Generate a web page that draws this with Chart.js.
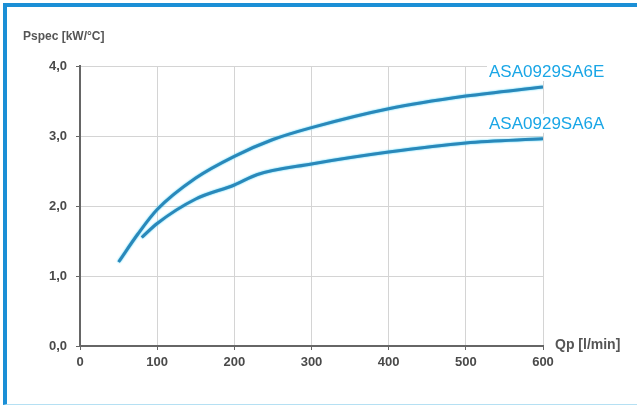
<!DOCTYPE html>
<html>
<head>
<meta charset="utf-8">
<script src="https://cdn.jsdelivr.net/npm/chart.js@4.4.0/dist/chart.umd.min.js"></script>
<style>
  html, body { margin: 0; padding: 0; background: #fff; }
  #frame {
    position: absolute; left: 3px; top: 3px; width: 634px; height: 402px;
    border-left: 4px solid #1b8fd6; border-top: 4px solid #1b8fd6;
    border-bottom: 1px solid #b5e0f3;
    box-sizing: border-box;
  }
  canvas { position: absolute; left: 0; top: 0; }
</style>
</head>
<body>
<div id="frame"></div>
<canvas id="myChart" width="641" height="409"></canvas>
<script>
// Qp [l/min] vs Pspec [kW/°C]
var flowE = [50, 75, 100, 150, 200, 250, 300, 400, 500, 600];
var pspecE = [1.2, 1.6, 1.95, 2.4, 2.71, 2.95, 3.12, 3.39, 3.57, 3.70];
var flowA = [80, 100, 150, 200, 230, 300, 400, 500, 600];
var pspecA = [1.55, 1.75, 2.1, 2.3, 2.45, 2.6, 2.77, 2.9, 2.96];
var seriesNames = ['ASA0929SA6E', 'ASA0929SA6A'];
var xTicks = [0, 100, 200, 300, 400, 500, 600];
var yTicks = [0, 1, 2, 3, 4];

function toPoints(xs, ys) {
    return xs.map(function(x, i) { return {x: x, y: ys[i]}; });
}

var fontFamily = "'Liberation Sans', Arial, sans-serif";

// cyan halo round the dark line
var lineGlow = {
    id: 'lineGlow',
    beforeDatasetDraw: function(chart) {
        var ctx = chart.ctx;
        ctx.save();
        ctx.shadowColor = '#3ccdf5';
        ctx.shadowBlur = 2;
    },
    afterDatasetDraw: function(chart) {
        chart.ctx.restore();
    }
};

// axis captions and series names next to line ends
var captions = {
    id: 'captions',
    afterDraw: function(chart) {
        var ctx = chart.ctx;
        var area = chart.chartArea;
        ctx.save();
        ctx.fillStyle = '#555';
        ctx.font = 'bold 12px ' + fontFamily;
        ctx.textBaseline = 'alphabetic';
        ctx.textAlign = 'left';
        ctx.fillText('Pspec [kW/°C]', 23, 40);
        ctx.font = 'bold 14px ' + fontFamily;
        ctx.textBaseline = 'middle';
        ctx.fillText('Qp [l/min]', area.right + 12, area.bottom - 1);

        ctx.font = '17px ' + fontFamily;
        ctx.textBaseline = 'alphabetic';
        chart.data.datasets.forEach(function(ds, i) {
            var meta = chart.getDatasetMeta(i);
            var last = meta.data[meta.data.length - 1];
            var tx = area.right - 54;
            var ty = last.y - 10;
            var w = ctx.measureText(ds.label).width;
            ctx.fillStyle = '#fff';
            ctx.fillRect(tx - 2, ty - 15, w + 30, 19);
            ctx.fillStyle = '#1aa6e6';
            ctx.fillText(ds.label, tx, ty);
        });
        ctx.restore();
    }
};

var ctx = document.getElementById('myChart').getContext('2d');
var myChart = new Chart(ctx, {
    type: 'line',
    data: {
        datasets: [
            {
                label: seriesNames[0],
                data: toPoints(flowE, pspecE),
                borderColor: '#2a88ba',
                borderWidth: 3,
                pointRadius: 0,
                cubicInterpolationMode: 'monotone',
                fill: false
            },
            {
                label: seriesNames[1],
                data: toPoints(flowA, pspecA),
                borderColor: '#2a88ba',
                borderWidth: 3,
                pointRadius: 0,
                cubicInterpolationMode: 'monotone',
                fill: false
            }
        ]
    },
    options: {
        responsive: false,
        animation: false,
        layout: { padding: { left: 0, top: 66, right: 98, bottom: 0 } },
        plugins: {
            legend: { display: false },
            tooltip: { enabled: false }
        },
        scales: {
            x: {
                type: 'linear',
                min: 0,
                max: 600,
                afterFit: function(scale) { scale.height = 63; },
                afterBuildTicks: function(scale) {
                    scale.ticks = xTicks.map(function(v) { return {value: v}; });
                },
                grid: { color: '#d4d4d4', lineWidth: 1, tickColor: '#666', tickLength: 4 },
                border: { color: '#666', width: 2 },
                ticks: {
                    color: '#4a4a4a',
                    padding: 5,
                    font: { family: fontFamily, size: 13, weight: 'bold' },
                    callback: function(v) { return String(v); }
                }
            },
            y: {
                type: 'linear',
                min: 0,
                max: 4,
                afterFit: function(scale) { scale.width = 80; },
                afterBuildTicks: function(scale) {
                    scale.ticks = yTicks.map(function(v) { return {value: v}; });
                },
                grid: { color: '#d4d4d4', lineWidth: 1, tickColor: '#666', tickLength: 4 },
                border: { color: '#666', width: 2 },
                ticks: {
                    color: '#4a4a4a',
                    padding: 9,
                    font: { family: fontFamily, size: 13, weight: 'bold' },
                    callback: function(v) { return v.toFixed(1).replace('.', ','); }
                }
            }
        }
    },
    plugins: [lineGlow, captions]
});
</script>
</body>
</html>
